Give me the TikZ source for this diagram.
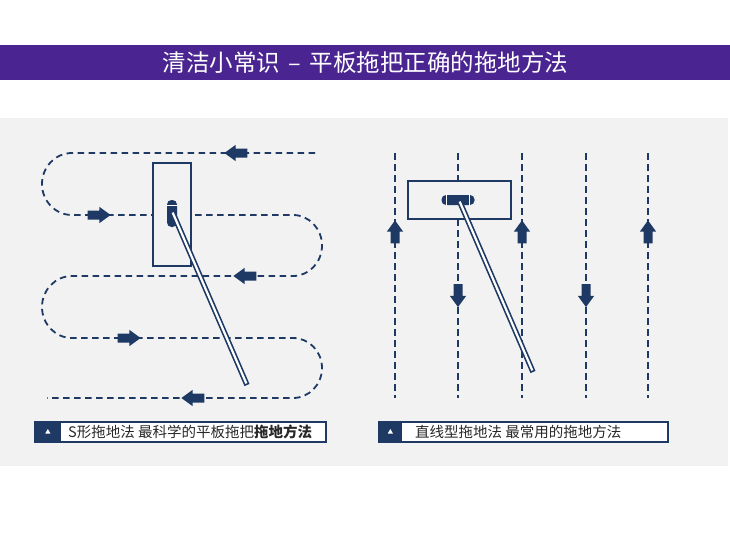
\documentclass[tikz,border=0pt]{standalone}
\usepackage{fontspec}
\setmainfont{Noto Sans CJK SC}
\usetikzlibrary{shapes.arrows,shapes.geometric}
\definecolor{navy}{RGB}{30,57,100}
\definecolor{titlepurple}{RGB}{74,37,145}
\definecolor{panelgray}{RGB}{242,242,242}
\definecolor{captext}{RGB}{40,40,40}
\tikzset{
  dashpath/.style={draw=navy, line width=1.8pt, dash pattern=on 6.5pt off 4.5pt},
  blockarr/.style={shape=single arrow, fill=navy, draw=none, inner xsep=0pt, inner ysep=4.3pt,
    minimum height=23pt, single arrow head extend=3.6pt, single arrow tip angle=72,
    single arrow head indent=0pt},
  blockarrv/.style={blockarr, inner xsep=4.3pt, inner ysep=0pt},
  mopbox/.style={draw=navy, fill=panelgray, line width=1.7pt, inner sep=0pt},
  mophead/.style={fill=navy, draw=none, rounded corners=4.5pt, inner sep=0pt},
  handleout/.style={draw=navy, line width=5.5pt},
  handlein/.style={draw=white, line width=2.2pt, shorten >=1.7pt, shorten <=1.7pt},
  capbox/.style={draw=navy, fill=white, line width=1.7pt, inner sep=0pt, minimum height=20pt},
  capsq/.style={fill=navy, draw=none, inner sep=0pt, minimum height=20pt},
  captri/.style={regular polygon, regular polygon sides=3, fill=white, draw=none, inner sep=0pt, minimum size=6pt},
  captxt/.style={anchor=west, inner sep=0pt, text=captext, font=\fontsize{14.5}{16}\selectfont},
}
\begin{document}
\begin{tikzpicture}[x=1pt,y=-1pt]
\useasboundingbox (0,0) rectangle (730,541);
\fill[white] (0,0) rectangle (730,541);
% title bar
\fill[titlepurple] (0,45) rectangle (730,80);
\node[text=white, font=\fontsize{23.5}{25}\selectfont, inner sep=0pt] (title) at (365.5,62.5) {清洁小常识\hspace{0.35em}–\hspace{0.35em}平板拖把正确的拖地方法};
% panel
\fill[panelgray] (0,118) rectangle (728,466);

% ===== left: S path =====
\coordinate (s1) at (315,153);
\coordinate (l1) at (72,153);
\coordinate (l2) at (72,215);
\coordinate (r2) at (293,215);
\coordinate (r3) at (293,276);
\coordinate (l3) at (72,276);
\coordinate (l4) at (72,338);
\coordinate (r4) at (293,338);
\coordinate (r5) at (293,398);
\coordinate (e5) at (47,398);
\draw[dashpath] (s1) -- (l1)
  .. controls (55.4,153) and (42,166.9) .. (42,184)
  .. controls (42,201.1) and (55.4,215) .. (l2) -- (r2)
  .. controls (309,215) and (322,228.7) .. (322,245.5)
  .. controls (322,262.3) and (309,276) .. (r3) -- (l3)
  .. controls (55.4,276) and (42,289.9) .. (42,307)
  .. controls (42,324.1) and (55.4,338) .. (l4) -- (r4)
  .. controls (309,338) and (322,351.4) .. (322,368)
  .. controls (322,384.6) and (309,398) .. (r5) -- (e5);
\node[blockarr, shape border rotate=180] (a1) at (239,153) {};
\node[blockarr, shape border rotate=0] (a2) at (96,215) {};
\node[blockarr, shape border rotate=180] (a3) at (248,276) {};
\node[blockarr, shape border rotate=0] (a4) at (126,338) {};
\node[blockarr, shape border rotate=180] (a5) at (196,398) {};

% left mop
\node[mopbox, minimum width=38pt, minimum height=103pt] (mopL) at (172,214.5) {};
\node[mophead, minimum width=10pt, minimum height=27pt] (headL) at (172,213.5) {};
\draw[white, line width=1pt] (166,205.5) -- (178,205.5);
\coordinate (hL0) at (172,211);
\coordinate (hL1) at (247,385);
\draw[handleout] (hL0) -- (hL1);
\draw[handlein] (hL0) -- (hL1);

% ===== right: straight lines =====
\foreach \i/\x in {1/395,2/458,3/522,4/586,5/648}{
  \coordinate (t\i) at (\x,153);
  \coordinate (b\i) at (\x,398);
  \draw[dashpath] (t\i) -- (b\i);
}
\node[blockarrv, shape border rotate=90] (u1) at (395,235) {};
\node[blockarrv, shape border rotate=90] (u3) at (522,235) {};
\node[blockarrv, shape border rotate=90] (u5) at (648,235) {};
\node[blockarrv, shape border rotate=270] (d2) at (458,292.5) {};
\node[blockarrv, shape border rotate=270] (d4) at (586,292.5) {};

% right mop
\node[mopbox, minimum width=103pt, minimum height=38pt] (mopR) at (459.5,200) {};
\node[mophead, minimum width=33pt, minimum height=10pt] (headR) at (458,200) {};
\draw[white, line width=1pt] (446.5,194) -- (446.5,206);
\draw[white, line width=1pt] (469.5,194) -- (469.5,206);
\coordinate (hR0) at (459,200);
\coordinate (hR1) at (533,372);
\draw[handleout] (hR0) -- (hR1);
\draw[handlein] (hR0) -- (hR1);

% ===== captions =====
\node[capbox, minimum width=291pt] (capL) at (180.5,432) {};
\node[capsq, minimum width=27pt, anchor=west] (sqL) at (capL.west) {};
\node[captri] (triL) at (sqL.center) {};
\node[captxt] (txtL) at (68,432) {S形拖地法 最科学的平板拖把\textbf{拖地方法}};

\node[capbox, minimum width=289pt] (capR) at (523.5,432) {};
\node[capsq, minimum width=24pt, anchor=west] (sqR) at (capR.west) {};
\node[captri] (triR) at (sqR.center) {};
\node[captxt] (txtR) at (415,432) {直线型拖地法 最常用的拖地方法};
\end{tikzpicture}
\end{document}
